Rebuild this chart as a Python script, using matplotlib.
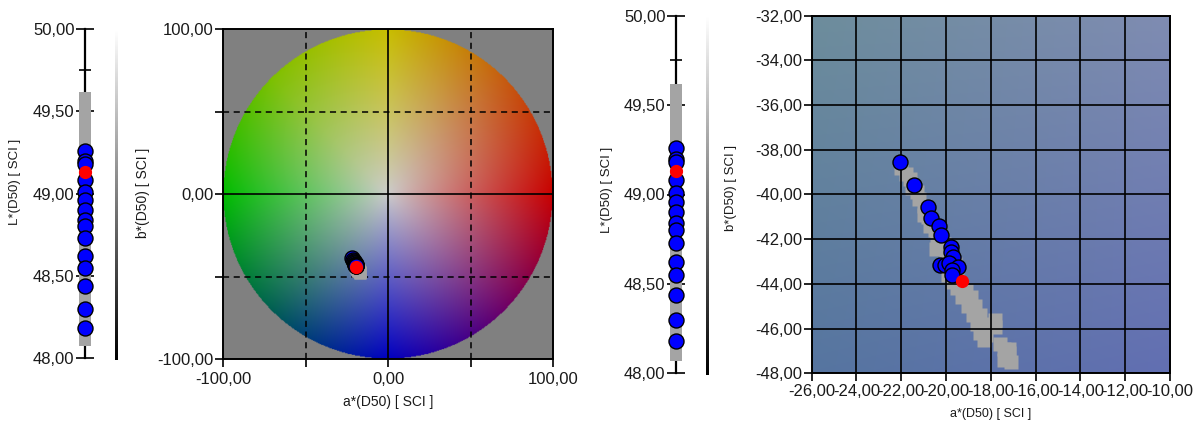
import numpy as np
import matplotlib
matplotlib.use('Agg')
from matplotlib import pyplot as plt
from matplotlib.ticker import FuncFormatter, FixedLocator

plt.rcParams['font.family'] = ['Liberation Sans', 'DejaVu Sans']

_W, _H = 1204, 428
_dpi = 100
_blue = '#0000ff'
_red = '#ff0000'
_gray = '#a4a4a4'
_txt = '#1a1a1a'

# ---- data ----
L_blue = [49.26, 49.20, 49.18, 49.08, 49.01, 48.96, 48.90, 48.84, 48.80,
          48.73, 48.62, 48.55, 48.44, 48.30, 48.18]
L_red = 49.13
L_gray_lo, L_gray_hi = 48.07, 49.62

a_blue = [-22.06, -21.43, -20.82, -20.67, -20.32, -20.23, -19.79, -19.79,
          -19.68, -20.27, -20.05, -19.85, -19.45, -19.75, -19.72]
b_blue = [-38.56, -39.58, -40.54, -41.07, -41.39, -41.81, -42.36, -42.56,
          -42.78, -43.15, -43.15, -43.08, -43.23, -43.38, -43.60]
a_red, b_red = -19.30, -43.85

# history samples (gray squares)
a_gray = [-22.0, -21.8, -21.6, -21.5, -21.3, -21.2, -21.0, -21.0, -20.8, -20.7,
          -20.5, -20.4, -20.45, -20.1, -20.0, -19.8, -19.6, -19.5, -19.9, -19.7,
          -19.4, -19.1, -19.5, -19.3, -18.9, -19.0, -18.7, -18.8, -18.5, -18.6,
          -18.3, -18.5, -18.2, -18.3, -17.8, -17.8, -17.6, -17.4, -17.2, -17.4,
          -17.1, -17.2]
b_gray = [-38.8, -39.1, -39.3, -39.7, -39.9, -40.2, -40.5, -40.9, -41.0, -41.4,
          -41.6, -42.0, -42.45, -42.2, -42.6, -42.9, -43.1, -43.5, -43.6, -43.9,
          -44.0, -44.3, -44.2, -44.6, -44.6, -45.0, -45.0, -45.4, -45.4, -45.8,
          -45.8, -46.2, -46.3, -46.5, -45.6, -45.95, -46.7, -46.9, -47.1, -47.4,
          -47.5, -46.9]

L_ticks = [48.0, 48.5, 49.0, 49.5, 50.0]
L_minor = [48.25, 48.75, 49.25, 49.75]
ab_ticks = [-100, -50, 0, 50, 100]
ab_labeled = [-100, 0, 100]
zoom_ticks = [-26, -24, -22, -20, -18, -16, -14, -12, -10]
zoom_yticks = [-48, -46, -44, -42, -40, -38, -36, -34, -32]


def comma(v, pos=None):
    if abs(v) < 1e-9:
        v = 0.0
    return ('%.2f' % v).replace('.', ',')


def px_axes(fig, x0, y0, x1, y1):
    return fig.add_axes([x0 / _W, 1 - y1 / _H, (x1 - x0) / _W, (y1 - y0) / _H])


def L_panel(fig, xc, y0, y1):
    ax = px_axes(fig, xc - 15, y0, xc + 15, y1)
    ax.set_xlim(-1, 1)
    ax.set_ylim(48, 50)
    ax.patch.set_visible(False)
    for s in ['top', 'right', 'bottom']:
        ax.spines[s].set_visible(False)
    ax.spines['left'].set_position(('data', 0))
    ax.spines['left'].set_linewidth(1.6)
    ax.set_xticks([])
    ax.set_yticks(L_ticks)
    ax.yaxis.set_minor_locator(FixedLocator(L_minor))
    ax.yaxis.set_major_formatter(FuncFormatter(comma))
    ax.tick_params(axis='y', which='major', direction='inout', length=13,
                   width=1.2, labelsize=12, pad=1, labelcolor=_txt)
    ax.tick_params(axis='y', which='minor', direction='inout', length=9, width=1.2)
    ax.bar(0, L_gray_hi - L_gray_lo, bottom=L_gray_lo, width=0.75,
           color=_gray, zorder=3)
    ax.plot([0] * len(L_blue), L_blue, 'o', ms=10.8, mfc=_blue, mec='black',
            mew=1.0, zorder=4, clip_on=False)
    ax.plot([0], [L_red], 'o', ms=8.5, mfc=_red, mec=_red, zorder=5)
    return ax


def gradient_bar(fig, x0, y0, x1, y1):
    ax = px_axes(fig, x0, y0, x1, y1)
    ax.imshow(np.linspace(1, 0, 256)[:, None], cmap='gray', aspect='auto',
              vmin=0, vmax=1)
    ax.axis('off')


def hue_disc(n=400):
    # colour wheel background of the a*b* diagram
    ang = [0, 45, 90, 135, 180, 225, 270, 315, 360]
    cols = np.array([(200, 0, 0), (198, 92, 15), (200, 190, 0), (125, 192, 0),
                     (0, 188, 0), (0, 95, 82), (0, 0, 192), (108, 0, 104),
                     (200, 0, 0)]) / 255.0
    g = np.linspace(-100, 100, n)
    A, B = np.meshgrid(g, g[::-1])
    r = np.sqrt(A ** 2 + B ** 2) / 100.0
    th = np.degrees(np.arctan2(B, A)) % 360
    edge = np.stack([np.interp(th, ang, cols[:, k]) for k in range(3)], -1)
    centre = np.array([0.80, 0.80, 0.80])
    t = np.clip(r, 0, 1)[..., None] ** 0.9
    rgb = centre * (1 - t) + edge * t
    alpha = (r <= 1.0).astype(float)[..., None]
    return np.concatenate([rgb, alpha], -1)


def frame(ax):
    for s in ax.spines.values():
        s.set_linewidth(1.4)
        s.set_color('black')


fig = plt.figure(figsize=(_W / _dpi, _H / _dpi), dpi=_dpi)

# ---- panel 1: L* bar ----
L_panel(fig, 85, 29, 358)
gradient_bar(fig, 114.5, 30, 117.5, 360)
fig.text(15 / _W, 1 - 182 / _H, 'L*(D50) [ SCI ]', rotation=90, ha='center',
         va='center', fontsize=9.5, color=_txt)

# ---- panel 2: a*b* colour circle ----
ax = px_axes(fig, 223.3, 29.3, 553.3, 359.3)
ax.set_facecolor('#808080')
ax.imshow(hue_disc(), extent=(-100, 100, -100, 100), interpolation='bilinear',
          zorder=0)
ax.set_xlim(-100, 100)
ax.set_ylim(-100, 100)
ax.set_aspect('auto')
ax.axhline(0, color='black', lw=1.2, zorder=1)
ax.axvline(0, color='black', lw=1.2, zorder=1)
for v in [-50, 50]:
    ax.axhline(v, color='black', lw=1.1, ls=(0, (4, 3)), zorder=1)
    ax.axvline(v, color='black', lw=1.1, ls=(0, (4, 3)), zorder=1)
lab = FuncFormatter(lambda v, p: comma(v) if v in ab_labeled else '')
ax.set_xticks(ab_ticks)
ax.set_yticks(ab_ticks)
ax.xaxis.set_major_formatter(lab)
ax.yaxis.set_major_formatter(lab)
ax.tick_params(direction='out', length=6, width=1.2, labelsize=12, pad=1,
               labelcolor=_txt)
ax.tick_params(axis='x', pad=3)
ax.plot(a_gray, b_gray, 's', ms=8, color=_gray, mec='none', zorder=2)
ax.plot(a_blue, b_blue, 'o', ms=10.8, mfc=_blue, mec='black', mew=1.0, zorder=3)
ax.plot([a_red], [b_red], 'o', ms=8.5, mfc=_red, mec=_red, zorder=4)
frame(ax)
fig.text(388 / _W, 1 - 402 / _H, 'a*(D50) [ SCI ]', ha='center', va='center',
         fontsize=10, color=_txt)
fig.text(143 / _W, 1 - 193 / _H, 'b*(D50) [ SCI ]', rotation=90, ha='center',
         va='center', fontsize=10, color=_txt)

# ---- panel 3: L* bar again ----
L_panel(fig, 676, 15.7, 373.3)
gradient_bar(fig, 705.5, 17, 708.5, 375)
fig.text(607 / _W, 1 - 190 / _H, 'L*(D50) [ SCI ]', rotation=90, ha='center',
         va='center', fontsize=9.5, color=_txt)

# ---- panel 4: zoomed a*b* ----
ax = px_axes(fig, 811.7, 15.7, 1170, 373.3)
tl, tr = np.array([109, 141, 156]), np.array([127, 140, 178])
bl, br = np.array([86, 117, 160]), np.array([98, 111, 178])
u = np.linspace(0, 1, 60)
U, V = np.meshgrid(u, u)
bg = (tl * ((1 - U) * (1 - V))[..., None] + tr * (U * (1 - V))[..., None]
      + bl * ((1 - U) * V)[..., None] + br * (U * V)[..., None]) / 255.0
ax.imshow(bg, extent=(-26, -10, -48, -32), aspect='auto',
          interpolation='bilinear', zorder=0)
ax.set_xlim(-26, -10)
ax.set_ylim(-48, -32)
ax.set_xticks(zoom_ticks)
ax.set_yticks(zoom_yticks)
ax.xaxis.set_major_formatter(FuncFormatter(comma))
ax.yaxis.set_major_formatter(FuncFormatter(comma))
ax.grid(True, color='black', lw=1.2, zorder=1)
ax.set_axisbelow(False)
ax.tick_params(direction='out', length=6, width=1.2, labelsize=12, pad=1,
               labelcolor=_txt)
ax.tick_params(axis='x', pad=2)
ax.plot(a_gray, b_gray, 's', ms=9.5, color=_gray, mec='none', zorder=2)
ax.plot(a_blue, b_blue, 'o', ms=10.8, mfc=_blue, mec='black', mew=1.0, zorder=3)
ax.plot([a_red], [b_red], 'o', ms=8.5, mfc=_red, mec=_red, zorder=4)
frame(ax)
fig.text(991 / _W, 1 - 414 / _H, 'a*(D50) [ SCI ]', ha='center', va='center',
         fontsize=9, color=_txt)
fig.text(731 / _W, 1 - 188 / _H, 'b*(D50) [ SCI ]', rotation=90, ha='center',
         va='center', fontsize=9.5, color=_txt)

fig.savefig('out.png', dpi=_dpi)
